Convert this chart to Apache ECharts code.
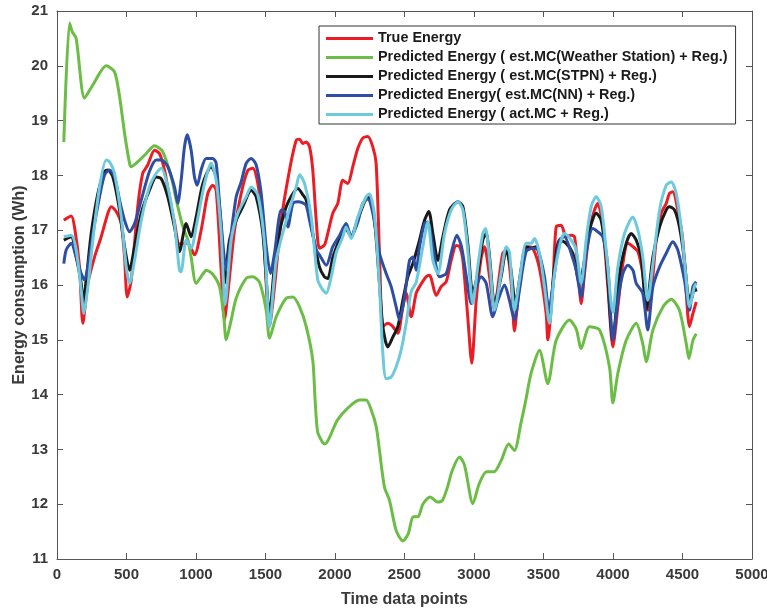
<!DOCTYPE html>
<html>
<head>
<meta charset="utf-8">
<title>Energy consumption</title>
<script src="https://cdn.jsdelivr.net/npm/echarts@6/dist/echarts.min.js"></script>
<style>
  html, body { margin: 0; padding: 0; background: #fff; }
  #chart { width: 767px; height: 610px; }
</style>
</head>
<body>
<div id="chart"></div>
<script>
// Axis ranges and tick spacing
const xTicks = { min: 0, max: 5000, interval: 500 };
const yTicks = { min: 11, max: 21, interval: 1 };

// Series names (legend order)
const seriesNames = [
  'True Energy',
  'Predicted Energy ( est.MC(Weather Station) + Reg.)',
  'Predicted Energy ( est.MC(STPN) + Reg.)',
  'Predicted Energy( est.MC(NN) + Reg.)',
  'Predicted Energy ( act.MC + Reg.)'
];

// [time data point, energy (Wh)]
const trueEnergy = [[49,17.18],[102,17.26],[126,17.06],[162,16.33],[186,15.30],[222,16.03],[270,16.51],[318,16.88],[366,17.31],[390,17.43],[426,17.34],[462,17.12],[486,16.51],[505,15.78],[534,16.09],[581,17.43],[617,18.04],[653,18.19],[701,18.46],[737,18.40],[773,18.10],[821,17.43],[845,17.15],[881,16.75],[941,16.76],[989,16.55],[1037,17.0],[1085,17.67],[1121,17.82],[1145,17.73],[1181,16.27],[1205,15.36],[1229,15.85],[1277,17.0],[1325,17.67],[1373,18.09],[1409,18.13],[1445,17.85],[1481,17.18],[1529,15.24],[1565,15.97],[1613,17.18],[1673,18.1],[1721,18.64],[1745,18.66],[1768,18.58],[1793,18.61],[1817,18.52],[1840,18.1],[1865,17.18],[1888,16.67],[1924,16.73],[1948,16.94],[1984,17.31],[2020,17.49],[2056,17.91],[2092,17.85],[2128,18.16],[2164,18.49],[2200,18.68],[2236,18.71],[2272,18.52],[2296,18.22],[2320,16.58],[2344,15.24],[2380,15.3],[2416,15.24],[2452,15.12],[2488,15.6],[2512,15.85],[2548,15.42],[2584,15.85],[2608,15.97],[2656,16.15],[2680,16.18],[2728,15.81],[2764,15.97],[2800,16.06],[2836,16.45],[2872,16.72],[2896,16.7],[2920,16.45],[2955,15.42],[2984,14.57],[3016,15.72],[3052,16.5],[3076,16.7],[3112,16.15],[3148,15.54],[3172,15.97],[3207,16.58],[3232,16.63],[3268,16.03],[3291,15.16],[3315,15.72],[3351,16.45],[3387,16.7],[3423,16.67],[3471,16.3],[3519,15.48],[3531,15.0],[3567,15.97],[3591,17.06],[3627,17.09],[3663,16.88],[3699,16.91],[3723,16.88],[3747,16.33],[3771,15.66],[3795,16.21],[3831,17.0],[3867,17.37],[3891,17.49],[3927,17.06],[3963,15.97],[3999,14.87],[4035,15.6],[4071,16.39],[4107,16.76],[4143,16.7],[4179,16.61],[4214,16.21],[4250,15.54],[4275,15.85],[4311,16.82],[4347,17.31],[4383,17.49],[4406,17.67],[4430,17.7],[4466,17.37],[4502,16.82],[4527,15.85],[4550,15.24],[4575,15.48],[4599,15.69]];

const weatherStation = [[49,18.61],[90,20.78],[110,20.62],[138,20.5],[198,19.41],[258,19.65],[354,20.0],[414,19.89],[450,19.44],[486,18.77],[522,18.22],[534,18.16],[594,18.28],[642,18.40],[701,18.54],[759,18.44],[822,17.97],[858,17.55],[906,17.06],[942,16.82],[965,16.51],[1001,16.03],[1049,16.2],[1073,16.27],[1119,16.2],[1169,15.97],[1200,15.42],[1217,15.0],[1253,15.36],[1289,15.76],[1361,16.12],[1409,16.15],[1457,16.05],[1505,15.54],[1529,15.03],[1577,15.42],[1649,15.76],[1697,15.78],[1745,15.6],[1793,15.24],[1840,14.63],[1857,13.9],[1875,13.32],[1910,13.13],[1927,13.1],[2016,13.53],[2086,13.74],[2176,13.9],[2224,13.9],[2262,13.71],[2297,13.41],[2320,12.98],[2356,12.31],[2392,12.07],[2440,11.52],[2488,11.33],[2527,11.46],[2562,11.77],[2597,11.77],[2632,12.0],[2685,12.13],[2738,12.04],[2773,12.07],[2809,12.31],[2844,12.62],[2896,12.86],[2932,12.71],[2992,12.01],[3037,12.37],[3090,12.59],[3143,12.59],[3196,12.8],[3249,13.1],[3291,12.98],[3337,13.47],[3372,13.89],[3411,14.39],[3471,14.81],[3531,14.2],[3591,14.99],[3687,15.36],[3735,15.2],[3771,14.84],[3831,15.24],[3903,15.18],[3975,14.5],[3999,13.85],[4035,14.39],[4095,14.99],[4167,15.3],[4214,14.93],[4239,14.6],[4287,15.18],[4359,15.6],[4419,15.74],[4478,15.54],[4527,14.93],[4546,14.66],[4575,14.99],[4599,15.11]];

const stpn = [[49,16.82],[102,16.88],[138,16.51],[174,16.03],[186,15.66],[210,16.09],[246,16.94],[294,17.67],[342,18.07],[366,18.1],[402,17.97],[450,17.37],[486,16.7],[522,16.27],[558,16.7],[606,17.31],[665,17.73],[714,17.97],[750,17.94],[797,17.61],[845,17.06],[881,16.61],[929,17.12],[965,16.88],[1001,17.24],[1049,17.85],[1109,18.16],[1145,17.97],[1181,17.06],[1205,16.03],[1241,16.82],[1289,17.18],[1337,17.43],[1397,17.73],[1433,17.61],[1481,16.94],[1529,15.48],[1577,16.64],[1649,17.43],[1733,17.76],[1768,17.65],[1793,17.55],[1840,16.94],[1888,16.33],[1924,16.15],[1948,16.12],[1984,16.5],[2032,16.84],[2068,17.06],[2116,16.9],[2164,17.2],[2224,17.58],[2248,17.6],[2284,17.18],[2320,16.03],[2344,15.24],[2380,14.87],[2416,15.05],[2452,15.24],[2488,15.72],[2524,16.15],[2560,16.39],[2608,16.82],[2644,17.18],[2675,17.34],[2704,16.94],[2740,16.45],[2776,16.88],[2824,17.37],[2884,17.52],[2920,17.43],[2955,16.76],[2991,15.85],[3027,16.21],[3063,16.82],[3088,16.94],[3112,16.51],[3148,15.66],[3195,16.15],[3232,16.64],[3263,16.33],[3298,15.66],[3327,16.09],[3375,16.7],[3411,16.67],[3447,16.7],[3495,16.21],[3543,15.48],[3579,16.33],[3615,16.82],[3663,16.76],[3711,16.58],[3759,16.03],[3795,16.45],[3831,17.0],[3879,17.31],[3915,17.18],[3951,16.51],[3999,15.0],[4047,16.21],[4095,16.76],[4131,16.94],[4167,16.82],[4203,16.51],[4239,15.55],[4287,16.51],[4335,17.06],[4383,17.37],[4406,17.43],[4442,17.37],[4478,17.06],[4514,16.45],[4538,15.85],[4562,15.72],[4586,15.97],[4598,15.88]];

const neuralNet = [[49,16.39],[66,16.64],[102,16.76],[138,16.51],[174,16.21],[198,16.09],[222,16.33],[258,16.94],[306,17.61],[342,18.01],[378,18.1],[414,17.97],[450,17.55],[486,17.18],[522,16.97],[558,17.12],[606,17.55],[665,18.07],[714,18.28],[750,18.28],[797,18.16],[845,17.79],[869,17.49],[893,17.91],[917,18.52],[937,18.74],[965,18.46],[989,17.97],[1009,17.82],[1037,18.1],[1073,18.31],[1121,18.31],[1145,18.22],[1169,17.49],[1200,16.58],[1217,16.27],[1241,16.7],[1289,17.61],[1325,17.88],[1361,18.22],[1397,18.31],[1433,18.19],[1469,17.67],[1505,16.7],[1536,16.21],[1565,16.58],[1613,17.37],[1637,17.34],[1661,17.06],[1697,17.49],[1733,17.52],[1768,17.5],[1793,17.45],[1817,17.18],[1865,16.64],[1888,16.55],[1937,16.36],[1984,16.7],[2032,16.9],[2080,17.12],[2116,16.88],[2164,17.15],[2200,17.49],[2236,17.57],[2272,17.31],[2320,16.58],[2368,16.21],[2404,15.97],[2440,15.6],[2464,15.36],[2500,15.78],[2536,16.45],[2560,16.51],[2584,16.27],[2608,16.7],[2644,17.12],[2668,17.15],[2704,16.7],[2752,16.15],[2800,16.21],[2836,16.58],[2876,16.91],[2910,16.7],[2945,16.15],[2980,15.66],[3016,15.97],[3052,16.15],[3088,16.03],[3135,15.42],[3172,15.72],[3220,16.0],[3255,15.72],[3291,15.36],[3327,15.91],[3375,16.61],[3423,16.67],[3459,16.64],[3507,16.15],[3538,15.54],[3579,16.21],[3615,16.82],[3651,16.88],[3699,16.58],[3735,16.27],[3771,15.78],[3807,16.58],[3855,17.03],[3891,16.97],[3927,16.88],[3963,16.33],[3999,14.99],[4035,15.72],[4071,16.21],[4107,16.36],[4143,16.27],[4167,16.03],[4214,15.85],[4250,15.18],[4287,15.97],[4335,16.33],[4383,16.58],[4430,16.79],[4466,16.64],[4514,16.09],[4550,15.54],[4575,15.97],[4599,16.06]];

const actualMC = [[49,16.88],[102,16.91],[138,16.64],[174,15.91],[193,15.48],[222,15.97],[258,16.82],[306,17.79],[354,18.28],[378,18.25],[414,18.04],[462,17.24],[498,16.33],[522,16.03],[558,16.45],[606,17.18],[665,17.79],[714,18.04],[750,18.13],[797,17.79],[845,17.12],[881,16.27],[893,16.24],[929,16.82],[965,16.67],[1001,17.06],[1061,17.85],[1109,18.22],[1145,17.91],[1181,16.94],[1210,15.65],[1253,16.82],[1301,17.31],[1361,17.61],[1397,17.79],[1445,17.64],[1493,16.76],[1529,15.24],[1577,16.45],[1649,17.18],[1721,17.79],[1745,18.01],[1781,17.85],[1829,17.24],[1876,16.09],[1912,15.91],[1937,15.85],[1973,16.15],[2008,16.58],[2056,16.88],[2080,17.06],[2116,16.85],[2164,17.24],[2224,17.61],[2248,17.66],[2284,17.28],[2320,15.97],[2344,14.75],[2368,14.29],[2404,14.32],[2440,14.51],[2476,14.81],[2512,15.3],[2548,15.88],[2584,16.05],[2632,16.7],[2668,17.15],[2704,16.45],[2740,16.21],[2788,16.94],[2836,17.37],[2884,17.52],[2920,17.37],[2955,16.64],[2991,15.66],[3027,16.33],[3063,16.94],[3083,17.03],[3112,16.45],[3148,15.54],[3195,16.21],[3232,16.7],[3255,16.6],[3291,15.54],[3327,16.09],[3375,16.76],[3411,16.76],[3435,16.85],[3471,16.58],[3507,15.97],[3543,15.3],[3579,16.21],[3627,16.82],[3651,16.94],[3699,16.82],[3735,16.64],[3771,16.03],[3807,16.82],[3843,17.43],[3879,17.61],[3915,17.43],[3951,16.64],[3999,15.5],[4035,16.33],[4083,16.94],[4143,17.24],[4179,17.0],[4214,16.51],[4250,15.72],[4287,16.39],[4335,17.37],[4383,17.82],[4419,17.88],[4455,17.67],[4490,17.06],[4527,16.09],[4550,15.6],[4586,15.97],[4599,16.03]];

const seriesData = [trueEnergy, weatherStation, stpn, neuralNet, actualMC];
const seriesColors = ['#ec1c24', '#6bbd45', '#1a1a1a', '#2d4ea2', '#6dcadd'];

const FONT = '"Liberation Sans", Arial, Helvetica, sans-serif';
const AXIS_COLOR = '#555555';
const TEXT_COLOR = '#3a3a3a';

function boxAxis(extra, ticks) {
  return Object.assign({
    type: 'value',
    min: ticks.min,
    max: ticks.max,
    interval: ticks.interval,
    axisLine: { show: true, onZero: false, lineStyle: { color: AXIS_COLOR, width: 1 } },
    axisTick: { show: true, inside: true, length: 6, lineStyle: { color: AXIS_COLOR, width: 1 } },
    splitLine: { show: false }
  }, extra);
}

const chart = echarts.init(document.getElementById('chart'), null, { renderer: 'canvas' });

chart.setOption({
  animation: false,
  backgroundColor: '#ffffff',
  grid: { left: 57, right: 15, top: 11, bottom: 51, containLabel: false, outerBoundsMode: 'none' },
  xAxis: [
    boxAxis({
      position: 'bottom',
      name: 'Time data points',
      nameLocation: 'middle',
      nameGap: 33,
      nameMoveOverlap: false,
      nameTextStyle: { fontFamily: FONT, fontWeight: 'bold', fontSize: 16, color: TEXT_COLOR },
      axisLabel: {
        show: true, margin: 8, fontFamily: FONT, fontWeight: 'bold', fontSize: 15, color: TEXT_COLOR,
        formatter: (v) => String(v)
      }
    }, xTicks),
    boxAxis({ position: 'top', axisLabel: { show: false } }, xTicks)
  ],
  yAxis: [
    boxAxis({
      position: 'left',
      name: 'Energy consumption (Wh)',
      nameLocation: 'middle',
      nameGap: 29,
      nameMoveOverlap: false,
      nameTextStyle: { fontFamily: FONT, fontWeight: 'bold', fontSize: 16, color: TEXT_COLOR },
      axisLabel: {
        show: true, margin: 9, fontFamily: FONT, fontWeight: 'bold', fontSize: 15, color: TEXT_COLOR,
        formatter: (v) => String(v)
      }
    }, yTicks),
    boxAxis({ position: 'right', axisLabel: { show: false } }, yTicks)
  ],
  legend: {
    orient: 'vertical',
    left: 319,
    top: 26,
    padding: [3, 8, 0, 7],
    itemGap: 0,
    itemWidth: 47,
    itemHeight: 3,
    icon: 'rect',
    backgroundColor: '#ffffff',
    borderColor: '#333333',
    borderWidth: 1,
    textStyle: { fontFamily: FONT, fontWeight: 'bold', fontSize: 14.4, color: '#1a1a1a', lineHeight: 19 },
    data: seriesNames
  },
  series: seriesNames.map((name, i) => ({
    name: name,
    type: 'line',
    xAxisIndex: 0,
    yAxisIndex: 0,
    data: seriesData[i],
    smooth: 0.25,
    showSymbol: false,
    symbol: 'none',
    color: seriesColors[i],
    lineStyle: { color: seriesColors[i], width: 3 },
    z: 2 + i
  }))
});
</script>
</body>
</html>
